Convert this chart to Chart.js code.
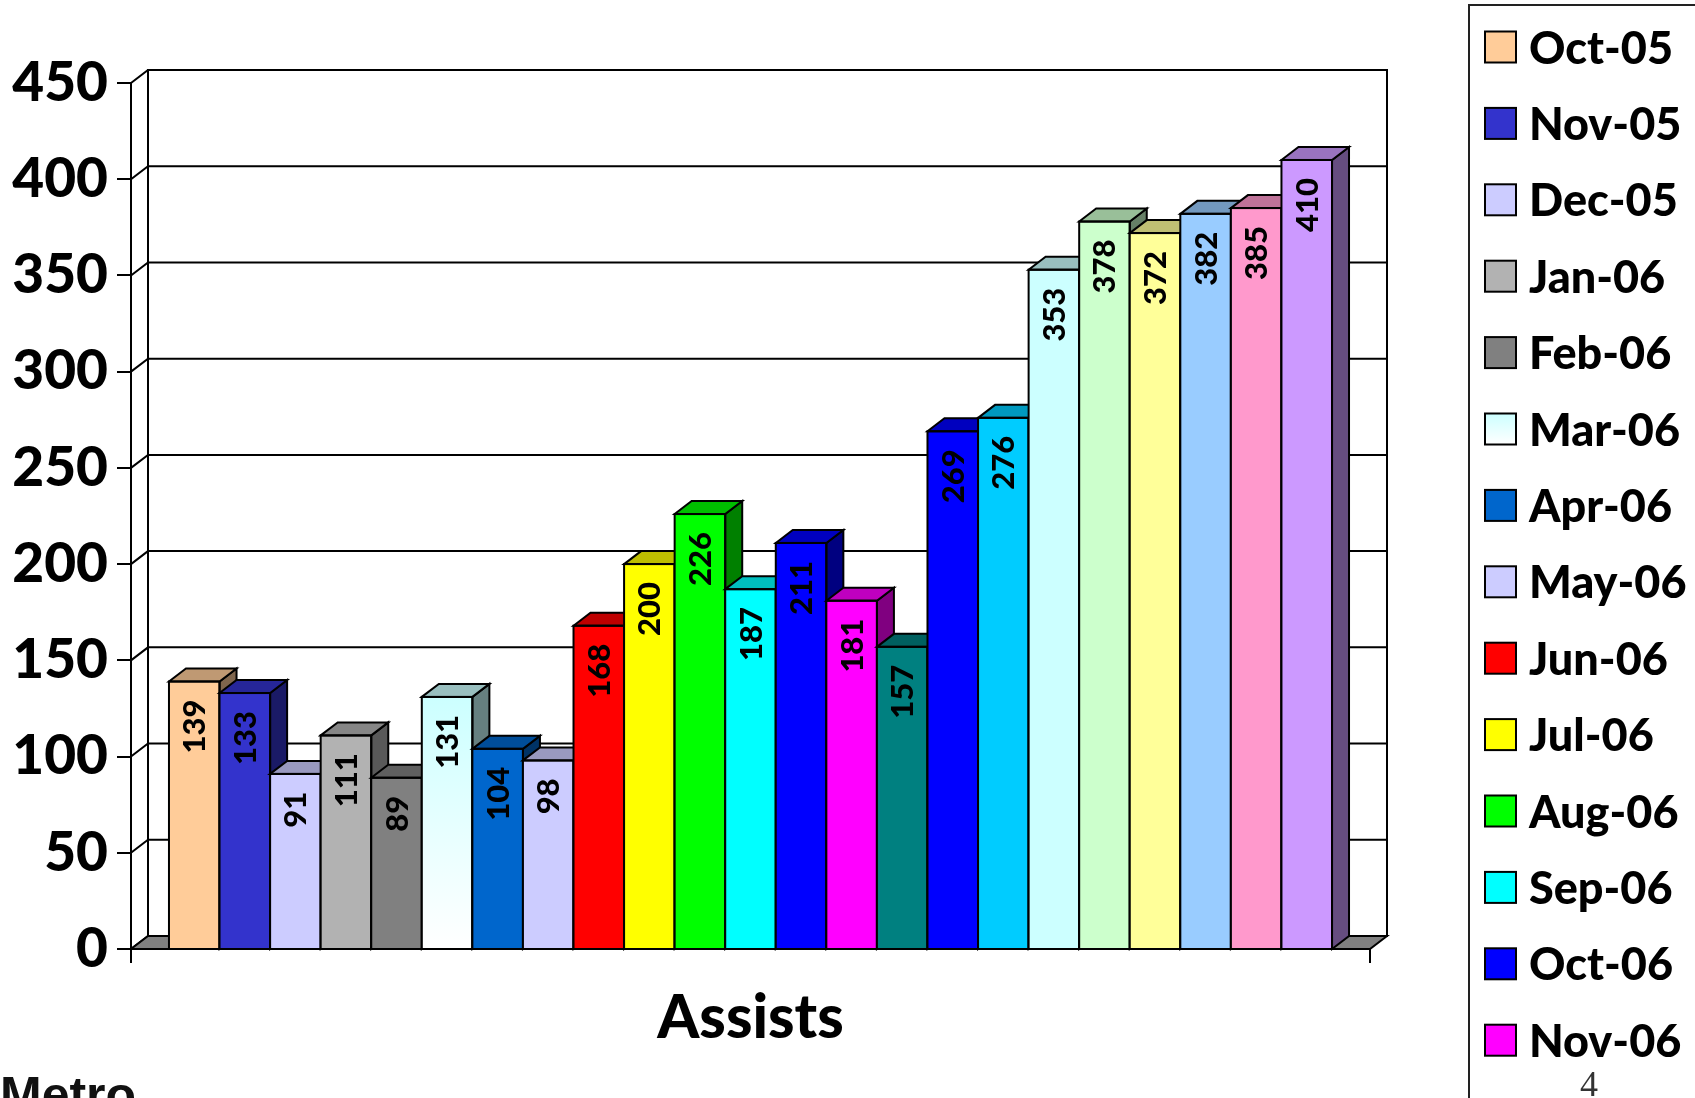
<!DOCTYPE html>
<html>
<head>
<meta charset="utf-8">
<title>Assists</title>
<script src="https://cdn.jsdelivr.net/npm/chart.js@4.4.1/dist/chart.umd.min.js"></script>
<style>
  html, body { margin: 0; padding: 0; background: #fff; overflow: hidden; }
  #wrap { position: relative; width: 1695px; height: 1098px; }
  #metro { position: absolute; left: 0; top: 1070px; font: bold 50px "Liberation Sans", Arial, sans-serif; line-height: 1; color: #111; }
  #page { position: absolute; left: 1580px; top: 1066px; font: 36px "Liberation Serif", serif; line-height: 1; color: #333; }
</style>
</head>
<body>
<div id="wrap">
  <canvas id="assistsChart"></canvas>
  <div id="metro">Metro</div>
  <div id="page">4</div>
</div>
<script>
// Chart data
const categories = ['Assists'];
const months = ['Oct-05', 'Nov-05', 'Dec-05', 'Jan-06', 'Feb-06', 'Mar-06', 'Apr-06', 'May-06',
                'Jun-06', 'Jul-06', 'Aug-06', 'Sep-06', 'Oct-06', 'Nov-06', 'Dec-06', 'Jan-07',
                'Feb-07', 'Mar-07', 'Apr-07', 'May-07', 'Jun-07', 'Jul-07', 'Aug-07'];
const assists = [139, 133, 91, 111, 89, 131, 104, 98, 168, 200, 226, 187, 211, 181, 157, 269,
                 276, 353, 378, 372, 382, 385, 410];
const yTicks = [0, 50, 100, 150, 200, 250, 300, 350, 400, 450];

// Bar colours (old Excel palette)
const barColors = ['#FFCC99', '#3333CC', '#CCCCFF', '#B2B2B2', '#808080', '#CCFFFF', '#0066CC', '#CCCCFF',
                   '#FF0000', '#FFFF00', '#00FF00', '#00FFFF', '#0000FF', '#FF00FF', '#008080', '#0000FF',
                   '#00CCFF', '#CCFFFF', '#CCFFCC', '#FFFF99', '#99CCFF', '#FF99CC', '#CC99FF'];
const gradientBars = ['Mar-06'];

// 3D depth of the bars and walls
const DX = 17, DY = 13;

Chart.defaults.font.family = 'Lato, "Open Sans", sans-serif';

function shade(hex, f) {
    const n = parseInt(hex.slice(1), 16);
    const r = Math.round(((n >> 16) & 255) * f);
    const g = Math.round(((n >> 8) & 255) * f);
    const b = Math.round((n & 255) * f);
    return `rgb(${r},${g},${b})`;
}

function frontFill(context) {
    const i = context.datasetIndex;
    const col = barColors[i];
    const chart = context.chart;
    if (!gradientBars.includes(months[i]) || !chart.chartArea) return col;
    const y = chart.scales.y;
    const g = chart.ctx.createLinearGradient(0, y.getPixelForValue(assists[i]), 0, y.getPixelForValue(0));
    g.addColorStop(0, col);
    g.addColorStop(1, '#FFFFFF');
    return g;
}

function drawWalls(chart) {
    const {ctx, chartArea: a, scales: {y}} = chart;
    const y0 = y.getPixelForValue(0);
    ctx.save();
    ctx.lineWidth = 2;
    ctx.strokeStyle = '#000';
    // back wall outline
    ctx.strokeRect(a.left + DX, a.top - DY, a.right - a.left, y0 - a.top);
    // side wall diagonals and back wall gridlines
    yTicks.forEach(v => {
        const py = y.getPixelForValue(v);
        ctx.beginPath();
        ctx.moveTo(a.left, py);
        ctx.lineTo(a.left + DX, py - DY);
        if (v > 0) ctx.lineTo(a.right + DX, py - DY);
        ctx.stroke();
    });
    // floor
    ctx.beginPath();
    ctx.moveTo(a.left, y0);
    ctx.lineTo(a.right, y0);
    ctx.lineTo(a.right + DX, y0 - DY);
    ctx.lineTo(a.left + DX, y0 - DY);
    ctx.closePath();
    ctx.fillStyle = '#808080';
    ctx.fill();
    ctx.stroke();
    // front axis and the two category ticks
    ctx.beginPath();
    ctx.moveTo(a.left, a.top);
    ctx.lineTo(a.left, y0 + 14);
    ctx.moveTo(a.right, y0);
    ctx.lineTo(a.right, y0 + 14);
    ctx.stroke();
    ctx.restore();
}

function drawBar3D(ctx, bar, color, base) {
    const x0 = bar.x - bar.width / 2, x1 = bar.x + bar.width / 2, yt = bar.y;
    ctx.save();
    ctx.lineWidth = 2;
    ctx.strokeStyle = '#000';
    // right side
    ctx.beginPath();
    ctx.moveTo(x1, yt);
    ctx.lineTo(x1 + DX, yt - DY);
    ctx.lineTo(x1 + DX, base - DY);
    ctx.lineTo(x1, base);
    ctx.closePath();
    ctx.fillStyle = shade(color, 0.5);
    ctx.fill();
    ctx.stroke();
    // top
    ctx.beginPath();
    ctx.moveTo(x0, yt);
    ctx.lineTo(x0 + DX, yt - DY);
    ctx.lineTo(x1 + DX, yt - DY);
    ctx.lineTo(x1, yt);
    ctx.closePath();
    ctx.fillStyle = shade(color, 0.75);
    ctx.fill();
    ctx.stroke();
    // front outline
    ctx.strokeRect(x0, yt, x1 - x0, base - yt);
    ctx.restore();
}

function drawLegend(chart) {
    const ctx = chart.ctx;
    const left = 1469, top = 5, sw = 31, swX = 1485, textX = 1529, firstY = 47, step = 76.4;
    ctx.save();
    ctx.lineWidth = 2;
    ctx.strokeStyle = '#222';
    ctx.beginPath();
    ctx.moveTo(left, chart.height + 5);
    ctx.lineTo(left, top);
    ctx.lineTo(chart.width + 5, top);
    ctx.stroke();
    ctx.font = '900 45px Lato, "Open Sans", sans-serif';
    ctx.textBaseline = 'middle';
    ctx.textAlign = 'left';
    chart.data.datasets.forEach((ds, i) => {
        const cy = firstY + i * step;
        let fill = barColors[i];
        if (gradientBars.includes(months[i])) {
            fill = ctx.createLinearGradient(0, cy - sw / 2, 0, cy + sw / 2);
            fill.addColorStop(0, barColors[i]);
            fill.addColorStop(1, '#FFFFFF');
        }
        ctx.fillStyle = fill;
        ctx.fillRect(swX, cy - sw / 2, sw, sw);
        ctx.strokeStyle = '#000';
        ctx.strokeRect(swX, cy - sw / 2, sw, sw);
        ctx.fillStyle = '#000';
        ctx.fillText(ds.label, textX, cy + 2);
    });
    ctx.restore();
}

const threeD = {
    id: 'threeD',
    beforeDatasetsDraw(chart) {
        drawWalls(chart);
    },
    // draw the bars ourselves, left to right, so each bar hides the side of the one before it
    beforeDatasetDraw() {
        return false;
    },
    afterDatasetsDraw(chart) {
        const ctx = chart.ctx;
        const base = chart.scales.y.getPixelForValue(0);
        chart.data.datasets.forEach((ds, i) => {
            const meta = chart.getDatasetMeta(i);
            meta.controller.draw();
            meta.data.forEach(bar => drawBar3D(ctx, bar, barColors[i], base));
        });
        // rotated value labels
        ctx.save();
        ctx.font = '900 31px Lato, "Open Sans", sans-serif';
        ctx.fillStyle = '#000';
        ctx.textAlign = 'right';
        ctx.textBaseline = 'middle';
        chart.data.datasets.forEach((ds, i) => {
            chart.getDatasetMeta(i).data.forEach((bar, j) => {
                ctx.save();
                ctx.translate(bar.x + 1, bar.y + 18);
                ctx.rotate(-Math.PI / 2);
                ctx.fillText(String(ds.data[j]), 0, 0);
                ctx.restore();
            });
        });
        ctx.restore();
    },
    afterDraw(chart) {
        drawLegend(chart);
    }
};

function generateChart() {
    const ctx = document.getElementById('assistsChart').getContext('2d');
    new Chart(ctx, {
        type: 'bar',
        data: {
            labels: categories,
            datasets: months.map((m, i) => ({
                label: m,
                data: [assists[i]],
                backgroundColor: frontFill,
                borderWidth: 0
            }))
        },
        options: {
            responsive: true,
            maintainAspectRatio: false,
            animation: false,
            events: [],
            layout: { padding: { top: 83, right: 325, bottom: 0, left: 0 } },
            datasets: { bar: { categoryPercentage: 0.9387, barPercentage: 1 } },
            plugins: {
                legend: { display: false },
                tooltip: { enabled: false }
            },
            scales: {
                x: {
                    grid: { display: false },
                    border: { display: false },
                    ticks: { display: false },
                    title: {
                        display: true,
                        text: categories[0],
                        color: '#000',
                        font: { size: 60, weight: '900' },
                        padding: { top: 0, bottom: 43 }
                    },
                    afterFit(scale) { scale.height = 149; }
                },
                y: {
                    min: 0,
                    max: 450,
                    afterBuildTicks(scale) { scale.ticks = yTicks.map(v => ({ value: v })); },
                    ticks: { color: '#000', font: { size: 55, weight: '900' }, padding: 9 },
                    grid: { display: true, drawOnChartArea: false, drawTicks: true, tickLength: 14, color: '#000', lineWidth: 2 },
                    border: { display: true, color: '#000', width: 2 },
                    afterFit(scale) { scale.width = 131; }
                }
            }
        },
        plugins: [threeD]
    });
}

generateChart();
</script>
</body>
</html>
